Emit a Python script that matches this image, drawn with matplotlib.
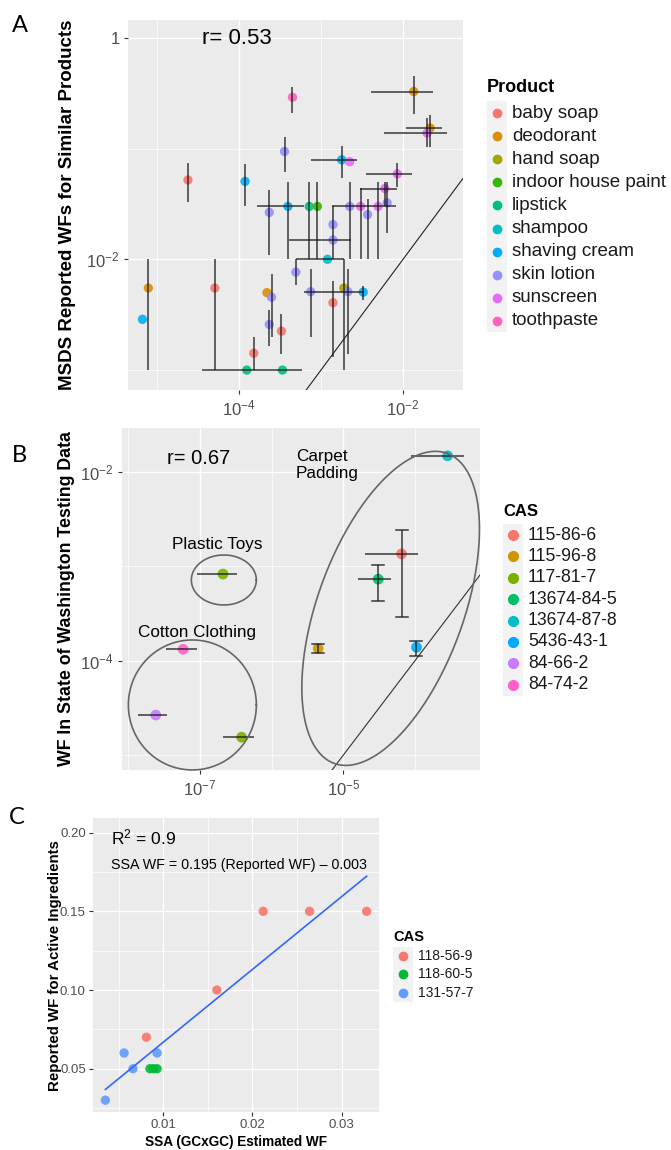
import numpy as np
import matplotlib
matplotlib.use("Agg")
import matplotlib.pyplot as plt
from matplotlib.lines import Line2D
from matplotlib.patches import Rectangle
from matplotlib.ticker import NullFormatter

plt.rcParams['font.family'] = ['Liberation Sans', 'DejaVu Sans']
plt.rcParams['mathtext.fontset'] = 'custom'
plt.rcParams['mathtext.rm'] = 'Liberation Sans'
plt.rcParams['mathtext.it'] = 'Liberation Sans:italic'
plt.rcParams['mathtext.bf'] = 'Liberation Sans:bold'

nan = np.nan

# ---------------- panel A: MSDS vs SSA ----------------
products = ['baby soap', 'deodorant', 'hand soap', 'indoor house paint', 'lipstick',
            'shampoo', 'shaving cream', 'skin lotion', 'sunscreen', 'toothpaste']
prod_colors = ['#F8766D', '#D89000', '#A3A500', '#39B600', '#00BF7D',
               '#00BFC4', '#00B0F6', '#9590FF', '#E76BF3', '#FF62BC']

a_prod = ['toothpaste', 'deodorant', 'deodorant', 'sunscreen', 'skin lotion',
          'shaving cream', 'sunscreen', 'baby soap', 'shaving cream', 'sunscreen',
          'sunscreen', 'skin lotion', 'sunscreen', 'sunscreen', 'skin lotion',
          'skin lotion', 'skin lotion', 'shaving cream', 'lipstick', 'indoor house paint',
          'skin lotion', 'skin lotion', 'shampoo', 'skin lotion', 'skin lotion',
          'hand soap', 'skin lotion', 'shaving cream', 'baby soap', 'deodorant',
          'shaving cream', 'baby soap', 'deodorant', 'skin lotion', 'skin lotion',
          'baby soap', 'baby soap', 'lipstick', 'lipstick']
a_x = [4.5e-4, 0.0135, 0.0214, 0.0196, 3.6e-4,
       1.79e-3, 2.24e-3, 2.4e-5, 1.19e-4, 8.5e-3,
       6.0e-3, 6.4e-3, 4.97e-3, 3.04e-3, 2.24e-3,
       3.7e-3, 2.35e-4, 3.96e-4, 7.2e-4, 9.06e-4,
       1.4e-3, 1.4e-3, 1.2e-3, 4.95e-4, 7.5e-4,
       1.9e-3, 2.13e-3, 3.27e-3, 1.4e-3, 7.9e-6,
       6.7e-6, 5.1e-5, 2.2e-4, 2.5e-4, 2.35e-4,
       3.3e-4, 1.52e-4, 1.25e-4, 3.4e-4]
a_y = [0.29, 0.327, 0.153, 0.138, 0.094,
       0.079, 0.076, 0.052, 0.0505, 0.059,
       0.0435, 0.0323, 0.030, 0.030, 0.030,
       0.0253, 0.0265, 0.030, 0.030, 0.030,
       0.0206, 0.0149, 0.010, 7.66e-3, 5.1e-3,
       5.5e-3, 5.1e-3, 5.05e-3, 4.06e-3, 5.5e-3,
       2.87e-3, 5.5e-3, 5.0e-3, 4.55e-3, 2.58e-3,
       2.25e-3, 1.42e-3, 1.0e-3, 1.0e-3]
a_xlo = [nan, 0.0041, 0.011, 0.0058, nan,
         7.6e-4, nan, nan, nan, 3.5e-3,
         3.0e-3, nan, nan, nan, 1.36e-3,
         nan, nan, 1.68e-4, nan, nan,
         nan, 4.1e-4, 4.95e-4, nan, 6.2e-4,
         nan, nan, nan, nan, nan,
         nan, nan, nan, nan, nan,
         nan, nan, 3.6e-5, nan]
a_xhi = [nan, 0.0234, 0.0295, 0.034, nan,
         2.75e-3, nan, nan, nan, 0.0128,
         8.5e-3, nan, nan, nan, 8.1e-3,
         nan, nan, 6.2e-4, nan, nan,
         nan, 2.3e-3, 1.9e-3, nan, 3.3e-3,
         nan, nan, nan, nan, nan,
         nan, nan, nan, nan, nan,
         nan, nan, 5.9e-4, nan]
a_ylo = [0.21, 0.206, 0.104, 0.104, 0.062,
         0.0546, nan, 0.033, 0.0305, 0.045,
         0.030, 0.0174, 0.010, 0.010, 0.010,
         0.010, 0.011, 0.010, 0.010, 0.010,
         0.010, nan, nan, 5.9e-3, 2.0e-3,
         1.0e-3, 1.39e-3, 4.3e-3, 1.3e-3, 1.0e-3,
         nan, 1.0e-3, nan, 1.97e-3, 1.64e-3,
         1.39e-3, 1.0e-3, nan, nan]
a_yhi = [0.36, 0.45, 0.20, 0.19, 0.128,
         0.106, nan, 0.0745, 0.073, 0.0745,
         0.050, 0.050, 0.050, 0.044, 0.050,
         0.0347, 0.0425, 0.050, 0.050, 0.050,
         0.030, nan, nan, 0.010, 8.1e-3,
         0.010, 8.1e-3, 5.7e-3, 6.4e-3, 0.010,
         nan, 0.010, nan, 7.3e-3, 3.5e-3,
         3.2e-3, 1.97e-3, nan, nan]

# ---------------- panel B: Washington testing data ----------------
cas_b = ['115-86-6', '115-96-8', '117-81-7', '13674-84-5',
         '13674-87-8', '5436-43-1', '84-66-2', '84-74-2']
cas_b_colors = ['#F8766D', '#CD9600', '#7CAE00', '#00BE67',
                '#00BFC4', '#00A9FF', '#C77CFF', '#FF61CC']
b_cas = ['115-86-6', '115-96-8', '117-81-7', '117-81-7', '13674-84-5',
         '13674-87-8', '5436-43-1', '84-66-2', '84-74-2']
b_x = [6.5e-5, 4.47e-6, 2.1e-7, 3.82e-7, 3.07e-5, 2.85e-4, 1.05e-4, 2.43e-8, 5.85e-8]
b_y = [1.35e-3, 1.35e-4, 8.26e-4, 1.55e-5, 7.3e-4, 0.01475, 1.39e-4, 2.66e-5, 1.32e-4]
b_xlo = [2.0e-5, nan, 9.0e-8, 2.1e-7, 1.58e-5, 8.7e-5, nan, 1.38e-8, 3.4e-8]
b_xhi = [1.12e-4, nan, 3.25e-7, 5.66e-7, 4.6e-5, 4.85e-4, nan, 3.5e-8, 9.0e-8]
b_ylo = [2.92e-4, 1.2e-4, nan, nan, 4.3e-4, nan, 1.13e-4, nan, nan]
b_yhi = [2.42e-3, 1.51e-4, nan, nan, 1.03e-3, nan, 1.63e-4, nan, nan]

# ---------------- panel C: active ingredients ----------------
cas_c = ['118-56-9', '118-60-5', '131-57-7']
cas_c_colors = ['#F8766D', '#00BA38', '#619CFF']
c_cas = ['118-56-9', '118-56-9', '118-56-9', '118-56-9', '118-56-9',
         '131-57-7', '131-57-7', '131-57-7', '131-57-7',
         '118-60-5', '118-60-5', '118-60-5']
c_x = [0.0212, 0.0264, 0.0328, 0.0160, 0.0081,
       0.0056, 0.0093, 0.0066, 0.0035,
       0.0085, 0.0089, 0.0093]
c_y = [0.15, 0.15, 0.15, 0.10, 0.07,
       0.06, 0.06, 0.05, 0.03,
       0.05, 0.05, 0.05]

W, H = 671, 1150
fig = plt.figure(figsize=(W / 100, H / 100), dpi=100)


def fx(p):
    return p / W


def fy(p):
    return 1 - p / H


def panel(left, top, right, bottom):
    ax = fig.add_axes([fx(left), fy(bottom), fx(right - left), (bottom - top) / H])
    ax.set_facecolor('#EBEBEB')
    for s in ax.spines.values():
        s.set_visible(False)
    ax.set_axisbelow(True)
    return ax


def style(ax, size, pad=3):
    ax.grid(which='major', color='white', lw=1.0)
    ax.grid(which='minor', color='white', lw=0.5)
    ax.tick_params(which='major', length=3, width=0.8, color='#333333',
                   labelcolor='#4D4D4D', labelsize=size, pad=pad)
    ax.tick_params(which='minor', length=0)
    ax.xaxis.set_minor_formatter(NullFormatter())
    ax.yaxis.set_minor_formatter(NullFormatter())


def bars(ax, x, y, xlo, xhi, ylo, yhi, cap=0):
    x, y = np.array(x), np.array(y)
    xlo, xhi, ylo, yhi = map(np.array, (xlo, xhi, ylo, yhi))
    mh = ~np.isnan(xlo)
    mv = ~np.isnan(ylo)
    ax.hlines(y[mh], xlo[mh], xhi[mh], color='#1A1A1A', lw=1.1, alpha=0.85, zorder=3)
    ax.vlines(x[mv], ylo[mv], yhi[mv], color='#1A1A1A', lw=1.1, alpha=0.85, zorder=3)
    if cap:
        for xi, lo, hi in zip(x[mv], ylo[mv], yhi[mv]):
            cx = ax.transData.transform([(xi, lo), (xi, hi)])
            for px_, py_ in cx:
                seg = ax.transData.inverted().transform([(px_ - cap, py_), (px_ + cap, py_)])
                ax.plot(seg[:, 0], seg[:, 1], color='#1A1A1A', lw=1.1, alpha=0.85, zorder=3)


def ellipse(ax, cx, cy, a, b, ang):
    t = np.linspace(0, 2 * np.pi, 300)
    c = ax.transData.transform((cx, cy))
    th = np.radians(ang)
    dx = a * np.cos(t) * np.cos(th) - b * np.sin(t) * np.sin(th)
    dy = a * np.cos(t) * np.sin(th) + b * np.sin(t) * np.cos(th)
    pts = ax.transData.inverted().transform(np.column_stack([c[0] + dx, c[1] + dy]))
    ax.plot(pts[:, 0], pts[:, 1], color='#666666', lw=1.2, zorder=4, clip_on=False)


def legend(title, labels, colors, tx, ty, y0, dy, fs, tfs, ms):
    fig.text(fx(tx), fy(ty), title, fontsize=tfs, weight='bold', va='center')
    for i, (lab, col) in enumerate(zip(labels, colors)):
        yy = y0 + i * dy
        mx = tx + 10
        fig.add_artist(Rectangle((fx(mx - 10), fy(yy + dy / 2)), 20 / W, dy / H,
                                 transform=fig.transFigure, color='#F2F2F2', lw=0))
        fig.add_artist(Line2D([fx(mx)], [fy(yy)], marker='o', ms=ms, color=col, lw=0,
                              transform=fig.transFigure))
        fig.text(fx(mx + 15), fy(yy), lab, fontsize=fs, va='center', color='#1A1A1A')


# ---- A ----
axA = panel(128, 20, 463, 390)
axA.set_xscale('log')
axA.set_yscale('log')
axA.set_xlim(10 ** -5.35, 10 ** -1.27)
axA.set_ylim(10 ** -3.18, 10 ** 0.16)
axA.set_xticks([1e-4, 1e-2], ['$10^{-4}$', '$10^{-2}$'])
axA.set_yticks([1, 1e-2], ['1', '$10^{-2}$'])
axA.set_xticks([1e-5, 1e-3, 1e-1], minor=True)
axA.set_yticks([1e-3, 1e-1], minor=True)
style(axA, 12)
colA = [prod_colors[products.index(p)] for p in a_prod]
axA.scatter(a_x, a_y, s=45, c=colA, alpha=0.9, lw=0, zorder=2)
bars(axA, a_x, a_y, a_xlo, a_xhi, a_ylo, a_yhi)
lim = np.array(axA.get_xlim())
axA.plot(lim, lim, color='#222222', lw=0.8, zorder=1.5)
axA.set_xlim(10 ** -5.35, 10 ** -1.27)
axA.set_ylim(10 ** -3.18, 10 ** 0.16)
axA.text(0.22, 0.95, 'r= 0.53', transform=axA.transAxes, fontsize=16, va='center')
fig.text(fx(68), fy(205), 'MSDS Reported WFs for Similar Products', rotation=90,
         fontsize=13.5, weight='bold', ha='center', va='center')
legend('Product', products, prod_colors, 487, 88, 113, 23.1, 13.5, 13, 6)

# ---- B ----
axB = panel(121.7, 428.3, 480, 770)
axB.set_xscale('log')
axB.set_yscale('log')
axB.set_xlim(10 ** -8.09, 10 ** -3.093)
axB.set_ylim(10 ** -5.157, 10 ** -1.54)
axB.set_xticks([1e-7, 1e-5], ['$10^{-7}$', '$10^{-5}$'])
axB.set_yticks([1e-4, 1e-2], ['$10^{-4}$', '$10^{-2}$'])
axB.set_xticks([1e-8, 1e-6, 1e-4], minor=True)
axB.set_yticks([1e-5, 1e-3], minor=True)
style(axB, 12)
colB = [cas_b_colors[cas_b.index(c)] for c in b_cas]
axB.scatter(b_x, b_y, s=60, c=colB, alpha=0.9, lw=0, zorder=2)
bars(axB, b_x, b_y, b_xlo, b_xhi, b_ylo, b_yhi, cap=6)
lim = np.array(axB.get_xlim())
axB.plot(lim, lim, color='#333333', lw=0.8, zorder=1.5)
axB.set_xlim(10 ** -8.09, 10 ** -3.093)
axB.set_ylim(10 ** -5.157, 10 ** -1.54)
ellipse(axB, 2.16e-7, 7.15e-4, 32.5, 25, 0)
ellipse(axB, 7.86e-8, 3.4e-5, 64, 65, 0)
ellipse(axB, 4.58e-5, 3.58e-4, 165, 73, 70)
fig.text(fx(167), fy(458), 'r= 0.67', fontsize=14.5, va='center')
fig.text(fx(296), fy(449), 'Carpet\nPadding', fontsize=12.3, va='top', linespacing=1.15)
fig.text(fx(172), fy(545), 'Plastic Toys', fontsize=12.3, va='center')
fig.text(fx(138), fy(632), 'Cotton Clothing', fontsize=12.3, va='center')
fig.text(fx(67), fy(599), 'WF In State of Washington Testing Data', rotation=90,
         fontsize=12.8, weight='bold', ha='center', va='center')
legend('CAS', cas_b, cas_b_colors, 503, 512, 535, 21.4, 12.7, 12, 7)

# ---- C ----
axC = panel(92.7, 818.3, 379.3, 1111.7)
axC.set_xlim(0.00208, 0.03422)
axC.set_ylim(0.0227, 0.2091)
axC.set_xticks([0.01, 0.02, 0.03], ['0.01', '0.02', '0.03'])
axC.set_yticks([0.05, 0.10, 0.15, 0.20], ['0.05', '0.10', '0.15', '0.20'])
axC.set_xticks([0.005, 0.015, 0.025], minor=True)
axC.set_yticks([0.025, 0.075, 0.125, 0.175], minor=True)
style(axC, 9.5, pad=2)
colC = [cas_c_colors[cas_c.index(c)] for c in c_cas]
axC.scatter(c_x, c_y, s=45, c=colC, alpha=0.9, lw=0, zorder=2)
k, b0 = np.polyfit(c_x, c_y, 1)
xs = np.array([min(c_x), max(c_x)])
axC.plot(xs, k * xs + b0, color='#3366FF', lw=1.2, zorder=3)
fig.text(fx(111), fy(837), 'R$^2$ = 0.9', fontsize=12.5, va='center')
fig.text(fx(111), fy(865), 'SSA WF = 0.195 (Reported WF) \u2013 0.003', fontsize=10.3, va='center')
fig.text(fx(55), fy(966), 'Reported WF for Active Ingredients', rotation=90,
         fontsize=10.8, weight='bold', ha='center', va='center')
fig.text(fx(236), fy(1142), 'SSA (GCxGC) Estimated WF', fontsize=9.8, weight='bold',
         ha='center', va='center')
legend('CAS', cas_c, cas_c_colors, 393, 937, 956, 18.3, 10, 10.5, 6)

# panel letters
for lab, (px_, py_) in zip(['A', 'B', 'C'], [(20, 26), (19, 456), (17, 818)]):
    fig.text(fx(px_), fy(py_), lab, fontsize=17, ha='center', va='center', family='Lato')

fig.savefig('out.png', dpi=100)
